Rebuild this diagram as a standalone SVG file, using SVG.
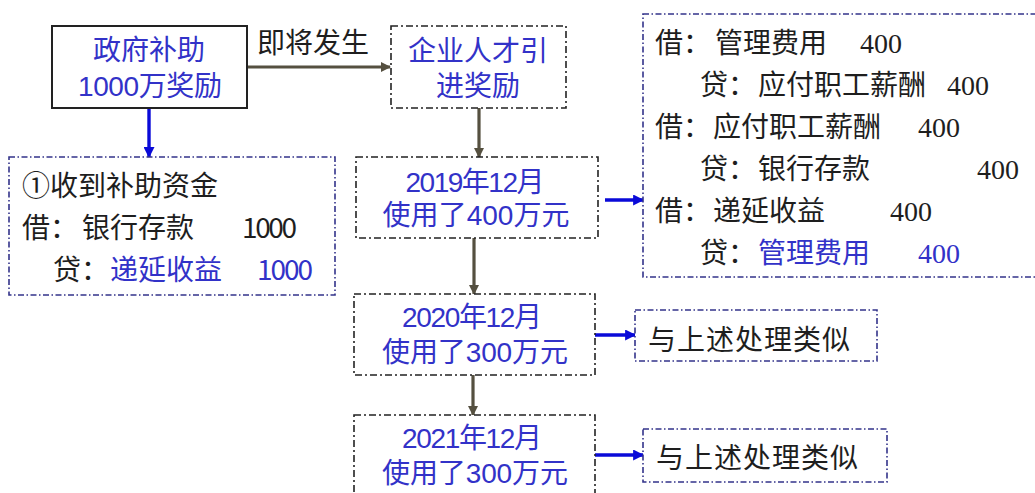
<svg xmlns="http://www.w3.org/2000/svg" width="1035" height="493" viewBox="0 0 1035 493">
<style>
  text { font-family: "Noto Sans CJK SC", "Liberation Sans", sans-serif; font-size: 28px; }
  .blue { fill: #3232c8; }
  .dark { fill: #1e1e1e; }
  .num { font-family: "Liberation Serif", "Noto Sans CJK SC", serif; }
  .ls { font-family: "Liberation Sans", "Noto Sans CJK SC", sans-serif; }
  .c { text-anchor: middle; }
  .solid { fill: #ffffff; stroke: #222222; stroke-width: 2; }
  .dashk { fill: #ffffff; stroke: #222222; stroke-width: 1.6; stroke-dasharray: 7 3 2 3; }
  .dashb { fill: #ffffff; stroke: #33338a; stroke-width: 1.6; stroke-dasharray: 6 2.5 1.5 2.5; }
  .gline { stroke: #555040; stroke-width: 3.2; fill: none; }
  .bline { stroke: #0a0ad8; stroke-width: 3.4; fill: none; }
</style>
<defs>
  <marker id="ga" viewBox="0 0 10 10" refX="9" refY="5" markerWidth="12" markerHeight="10" markerUnits="userSpaceOnUse" orient="auto">
    <path d="M0,0 L10,5 L0,10 z" fill="#555040"/>
  </marker>
  <marker id="ba" viewBox="0 0 10 10" refX="9" refY="5" markerWidth="13" markerHeight="11" markerUnits="userSpaceOnUse" orient="auto">
    <path d="M0,0 L10,5 L0,10 z" fill="#0a0ad8"/>
  </marker>
</defs>
<rect width="1035" height="493" fill="#ffffff"/>

<g id="connectors">
  <line class="gline" x1="247" y1="67" x2="390" y2="67" marker-end="url(#ga)"/>
  <line class="bline" x1="149" y1="108" x2="149" y2="157" marker-end="url(#ba)"/>
  <line class="gline" x1="479" y1="108" x2="479" y2="157" marker-end="url(#ga)"/>
  <line class="gline" x1="474" y1="238" x2="474" y2="294" marker-end="url(#ga)"/>
  <line class="bline" x1="605" y1="200" x2="643" y2="200" marker-end="url(#ba)"/>
  <line class="gline" x1="473" y1="375" x2="473" y2="415" marker-end="url(#ga)"/>
  <line class="bline" x1="595" y1="335" x2="635" y2="335" marker-end="url(#ba)"/>
  <line class="bline" x1="595" y1="455" x2="643" y2="455" marker-end="url(#ba)"/>
  <text class="dark" x="257" y="53">即将发生</text>
</g>

<g id="gov">
  <rect class="solid" x="52" y="26" width="195" height="82"/>
  <text class="blue c ls" x="149" y="60">政府补助</text>
  <text class="blue c ls" x="150" y="96" textLength="144">1000万奖励</text>
</g>

<g id="talent">
  <rect class="dashk" x="391" y="26" width="175" height="82"/>
  <text class="blue c ls" x="478" y="61">企业人才引</text>
  <text class="blue c ls" x="478" y="96">进奖励</text>
</g>

<g id="receive">
  <rect class="dashb" x="9" y="157" width="326" height="138"/>
  <text class="dark" x="22" y="196">①收到补助资金</text>
  <text class="dark" x="22" y="238">借：</text>
  <text class="dark" x="82" y="238">银行存款</text>
  <text class="dark" x="242" y="238" textLength="55">1000</text>
  <text class="dark" x="53" y="280">贷：</text>
  <text class="blue" x="110" y="280">递延收益</text>
  <text class="blue" x="257" y="280" textLength="56">1000</text>
</g>

<g id="y2019">
  <rect class="dashk" x="356" y="157" width="242" height="81"/>
  <text class="blue c ls" x="475" y="192" textLength="139">2019年12月</text>
  <text class="blue c ls" x="476" y="225" textLength="187">使用了400万元</text>
</g>

<g id="entries">
  <rect class="dashb" x="643" y="14" width="400" height="263"/>
  <text class="dark" x="655" y="53">借：</text>
  <text class="dark" x="715" y="53">管理费用</text>
  <text class="dark num" x="860" y="53">400</text>
  <text class="dark" x="700" y="95">贷：</text>
  <text class="dark" x="758" y="95">应付职工薪酬</text>
  <text class="dark num" x="947" y="95">400</text>
  <text class="dark" x="655" y="137">借：</text>
  <text class="dark" x="713" y="137">应付职工薪酬</text>
  <text class="dark num" x="918" y="137">400</text>
  <text class="dark" x="700" y="179">贷：</text>
  <text class="dark" x="758" y="179">银行存款</text>
  <text class="dark num" x="977" y="179">400</text>
  <text class="dark" x="655" y="221">借：</text>
  <text class="dark" x="713" y="221">递延收益</text>
  <text class="dark num" x="890" y="221">400</text>
  <text class="dark" x="700" y="263">贷：</text>
  <text class="blue" x="758" y="263">管理费用</text>
  <text class="blue num" x="918" y="263">400</text>
</g>

<g id="y2020">
  <rect class="dashk" x="354" y="294" width="241" height="81"/>
  <text class="blue c ls" x="472" y="327" textLength="140">2020年12月</text>
  <text class="blue c ls" x="475" y="362" textLength="186">使用了300万元</text>
</g>

<g id="similar1">
  <rect class="dashb" x="635" y="310" width="242" height="51"/>
  <text class="dark" x="648" y="350" textLength="202">与上述处理类似</text>
</g>

<g id="y2021">
  <rect class="dashk" x="354" y="415" width="241" height="90"/>
  <text class="blue c ls" x="472" y="448" textLength="140">2021年12月</text>
  <text class="blue c ls" x="475" y="483" textLength="186">使用了300万元</text>
</g>

<g id="similar2">
  <rect class="dashb" x="643" y="429" width="244" height="53"/>
  <text class="dark" x="656" y="468" textLength="202">与上述处理类似</text>
</g>
</svg>
